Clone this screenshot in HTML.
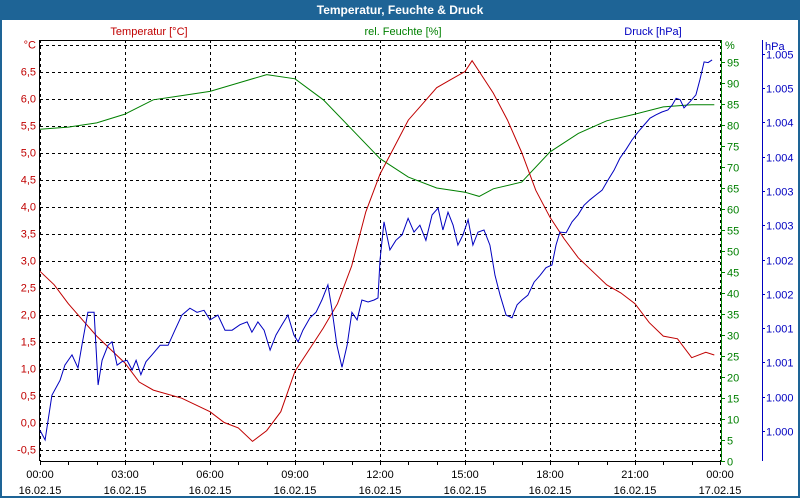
<!DOCTYPE html>
<html><head><meta charset="utf-8"><style>
body{margin:0;width:800px;height:500px;overflow:hidden;background:#fff;font-family:"Liberation Sans",Verdana,sans-serif}
#frame{position:absolute;left:0;top:0;width:796px;height:496px;border:2px solid #1e6496;border-top:none}
#title{position:absolute;left:0;top:0;width:800px;height:20px;background:#1e6496;color:#fff;font-weight:bold;font-size:12px;text-align:center;line-height:20px}
</style></head><body>
<div id="frame"></div>
<div id="title">Temperatur, Feuchte &amp; Druck</div>
<svg id="chart" width="800" height="500" style="position:absolute;left:0;top:0"></svg>
<script>
const tempTimes=[0,0.5,1,1.5,2,2.5,3,3.5,4,5,6,6.5,7,7.5,8,8.5,9,9.5,10,10.5,11,11.5,12,12.5,13,13.5,14,14.5,15,15.25,15.5,16,16.5,17,17.5,18,18.5,19,19.5,20,20.5,21,21.5,22,22.5,23,23.5,23.8];
const tempValues=[2.8,2.55,2.2,1.9,1.6,1.35,1.1,0.75,0.6,0.45,0.2,0.0,-0.1,-0.35,-0.15,0.2,0.95,1.35,1.75,2.2,2.9,3.9,4.6,5.1,5.6,5.9,6.2,6.35,6.5,6.7,6.5,6.1,5.6,5.0,4.3,3.8,3.4,3.05,2.8,2.55,2.4,2.2,1.85,1.6,1.55,1.2,1.3,1.25];
const humTimes=[0,1,2,3,4,5,6,7,8,9,10,11,12,13,14,15,15.5,16,17,18,19,20,21,22,23,23.8];
const humValues=[79,79.5,80.5,82.6,86,87,88,90,92,91,86,79,72,67.6,65,64,63,64.8,66.4,73.6,78,81,82.6,84.3,84.8,84.8];
const presTimes=[0,.18,.42,.71,.88,1.13,1.34,1.48,1.69,1.91,2.05,2.19,2.4,2.54,2.72,2.89,3.07,3.25,3.39,3.56,3.74,3.95,4.24,4.52,4.76,5.01,5.29,5.54,5.79,6,6.28,6.53,6.78,7.06,7.31,7.48,7.69,7.91,8.12,8.33,8.54,8.75,8.96,9.11,9.28,9.53,9.74,9.95,10.16,10.31,10.48,10.66,10.84,11.01,11.19,11.36,11.58,11.79,11.93,12,12.14,12.35,12.56,12.78,12.99,13.2,13.41,13.62,13.84,14.05,14.22,14.4,14.58,14.75,14.93,15.11,15.28,15.46,15.67,15.88,16.06,16.24,16.45,16.66,16.84,17.01,17.22,17.44,17.65,17.86,18.07,18.21,18.35,18.57,18.78,18.99,19.2,19.41,19.62,19.84,20.05,20.26,20.47,20.68,20.89,21.11,21.32,21.53,21.74,21.95,22.16,22.31,22.45,22.59,22.73,22.94,23.15,23.29,23.44,23.58,23.72];
const presValues=[1000.26,1000.12,1000.77,1000.99,1001.21,1001.36,1001.17,1001.50,1001.98,1001.98,1000.92,1001.28,1001.50,1001.55,1001.21,1001.26,1001.28,1001.14,1001.28,1001.07,1001.26,1001.36,1001.50,1001.50,1001.72,1001.94,1002.04,1001.98,1002.01,1001.87,1001.94,1001.72,1001.72,1001.80,1001.84,1001.69,1001.84,1001.72,1001.43,1001.65,1001.80,1001.94,1001.65,1001.55,1001.72,1001.90,1001.98,1002.16,1002.38,1002.01,1001.50,1001.18,1001.50,1001.98,1001.87,1002.16,1002.13,1002.16,1002.19,1002.74,1003.30,1002.89,1003.03,1003.11,1003.35,1003.15,1003.25,1003.03,1003.40,1003.50,1003.18,1003.44,1003.25,1002.96,1003.11,1003.33,1002.96,1003.15,1003.18,1002.96,1002.52,1002.23,1001.94,1001.90,1002.09,1002.16,1002.23,1002.42,1002.52,1002.63,1002.67,1002.96,1003.15,1003.14,1003.30,1003.40,1003.54,1003.62,1003.69,1003.76,1003.91,1004.05,1004.23,1004.35,1004.49,1004.61,1004.71,1004.81,1004.86,1004.90,1004.93,1005.00,1005.10,1005.08,1004.96,1005.05,1005.15,1005.37,1005.63,1005.62,1005.66];
const tempTicks=[-0.5,0,0.5,1,1.5,2,2.5,3,3.5,4,4.5,5,5.5,6,6.5];
const tempTickLabels=["-0,5","0,0","0,5","1,0","1,5","2,0","2,5","3,0","3,5","4,0","4,5","5,0","5,5","6,0","6,5"];
const humTicks=[0,5,10,15,20,25,30,35,40,45,50,55,60,65,70,75,80,85,90,95];
const presTicks=[1000.25,1000.75,1001.25,1001.75,1002.25,1002.75,1003.25,1003.75,1004.25,1004.75,1005.25,1005.75];
const presTickLabels=["1.000","1.000","1.001","1.001","1.002","1.002","1.003","1.003","1.004","1.004","1.005","1.005"];
const xTicks=[0,3,6,9,12,15,18,21,24];
const xTickLabels=["00:00","03:00","06:00","09:00","12:00","15:00","18:00","21:00","00:00"];
const xDateLabels=["16.02.15","16.02.15","16.02.15","16.02.15","16.02.15","16.02.15","16.02.15","16.02.15","17.02.15"];

const L=40,R=720,T=40,B=461;
const xS=h=>L+h*(R-L)/24;
const yT=v=>422.5-v*54;
const yH=v=>461-v*4.2;
const yP=v=>431-(v-1000.25)*68.6;
const svg=document.getElementById('chart');
const NS='http://www.w3.org/2000/svg';
function mk(tag,attrs,parent){const e=document.createElementNS(NS,tag);for(const k in attrs)e.setAttribute(k,attrs[k]);(parent||svg).appendChild(e);return e;}
function txt(s,x,y,anchor,color,size){const e=mk('text',{x:x,y:y,'text-anchor':anchor,fill:color,'font-size':size||11,'font-family':'Liberation Sans, Verdana, sans-serif'});e.textContent=s;return e;}

// grid
const grid=mk('g',{stroke:'#000','stroke-dasharray':'3,3','stroke-width':1});


tempTicks.concat([7]).forEach(v=>{const y=Math.round(yT(v))+0.5;mk('line',{x1:L,x2:R,y1:y,y2:y},grid);});
xTicks.forEach(h=>{const x=Math.round(xS(h))+0.5;mk('line',{x1:x,x2:x,y1:T,y2:B},grid);});
// frame lines
mk('line',{x1:L,x2:R,y1:T+0.5,y2:T+0.5,stroke:'#000'});
mk('line',{x1:L-0.5,x2:L-0.5,y1:T,y2:B,stroke:'#000'});
mk('line',{x1:L,x2:R,y1:B+0.5,y2:B+0.5,stroke:'#000'});
// x minor ticks
for(let h=0;h<=24;h++){const x=Math.round(xS(h))+0.5;mk('line',{x1:x,x2:x,y1:B,y2:B+4,stroke:'#000'});}
xTicks.forEach((h,i)=>{
 const a=txt(xTickLabels[i],xS(h),478,'middle','#000');
 
 
 const b=txt(xDateLabels[i],xS(h),494,'middle','#000');
 
 
});
// left axis labels
const red='#c00000',green='#008000',blue='#0000c0';
tempTicks.forEach((v,i)=>{const t=txt(tempTickLabels[i],36,yT(v)+4,'end',red);
 
 });
txt('°C',36,yT(7)+4,'end',red);
// humidity axis
mk('line',{x1:721.5,x2:721.5,y1:T,y2:B,stroke:green});
humTicks.forEach(v=>{const y=Math.round(yH(v))+0.5;mk('line',{x1:721,x2:725,y1:y,y2:y,stroke:green});
 const t=txt(String(v),727,y+4,'start',green);
 
 });
txt('%',725,49,'start',green);
// pressure axis
mk('line',{x1:762.5,x2:762.5,y1:T,y2:B,stroke:blue});
presTicks.forEach((v,i)=>{const y=Math.round(yP(v))+0.5;mk('line',{x1:762,x2:765,y1:y,y2:y,stroke:blue});
 const t=txt(presTickLabels[i],766,y+4,'start',blue);
 
 });
txt('hPa',765,50,'start',blue);
// series titles
const s1=txt('Temperatur [°C]',149,35,'middle',red);


const s2=txt('rel. Feuchte [%]',403,35,'middle',green);


const s3=txt('Druck [hPa]',653,35,'middle',blue);


// series lines
function line(ts,vs,yf,color,name){
 const pts=ts.map((t,i)=>xS(t).toFixed(1)+','+yf(vs[i]).toFixed(1)).join(' ');
 const p=mk('polyline',{points:pts,fill:'none',stroke:color,'stroke-width':1});
 
 
}
line(humTimes,humValues,yH,green,'humidity-line');
line(tempTimes,tempValues,yT,red,'temperature-line');
line(presTimes,presValues,yP,blue,'pressure-line');
</script>
</body></html>
